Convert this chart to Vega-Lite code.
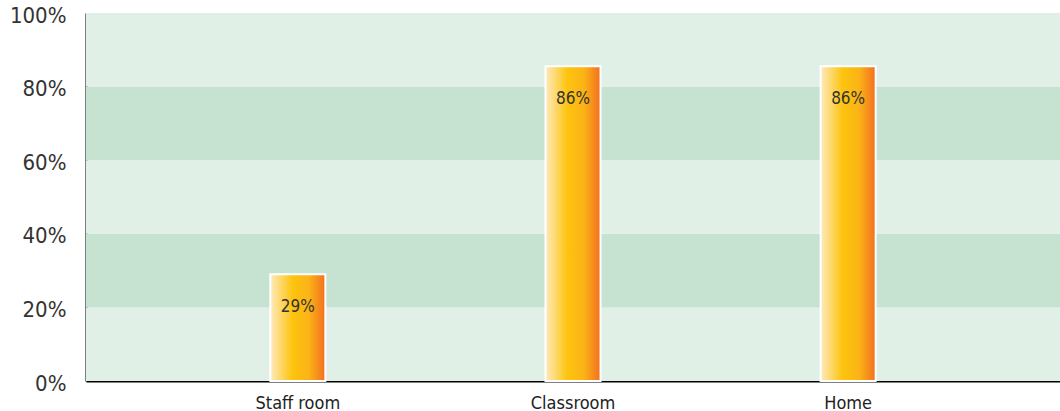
{
  "$schema": "https://vega.github.io/schema/vega-lite/v6.json",
  "width": 974,
  "height": 368,
  "autosize": {"type": "none"},
  "padding": {"left": 86, "top": 13, "right": 0, "bottom": 30},
  "background": "white",
  "config": {"view": {"stroke": null}, "font": "DejaVu Sans Condensed, Roboto, sans-serif"},
  "datasets": {
    "bands": [
      {"lo": 0, "hi": 0.2, "shade": "light"},
      {"lo": 0.2, "hi": 0.4, "shade": "dark"},
      {"lo": 0.4, "hi": 0.6, "shade": "light"},
      {"lo": 0.6, "hi": 0.8, "shade": "dark"},
      {"lo": 0.8, "hi": 1.0, "shade": "light"}
    ],
    "bars": [
      {"place": "Staff room", "value": 0.29, "label": "29%"},
      {"place": "Classroom", "value": 0.855, "label": "86%"},
      {"place": "Home", "value": 0.855, "label": "86%"}
    ]
  },
  "layer": [
    {
      "data": {"name": "bands"},
      "mark": {"type": "rect", "x": 0, "x2": 974},
      "encoding": {
        "y": {
          "field": "lo", "type": "quantitative", "scale": {"domain": [0, 1]},
          "axis": {"title": null, "format": "%", "values": [0, 0.2, 0.4, 0.6, 0.8, 1], "grid": false, "ticks": false, "domainColor": "black", "domainWidth": 2, "labelFontSize": 22, "labelColor": "#333", "labelPadding": 20, "labelOffset": 2}
        },
        "y2": {"field": "hi"},
        "color": {"field": "shade", "type": "nominal", "scale": {"domain": ["light", "dark"], "range": ["#e1f0e7", "#c6e3d2"]}, "legend": null}
      }
    },
    {
      "data": {"name": "bars"},
      "layer": [
        {
          "mark": {
            "type": "bar",
            "stroke": "white",
            "strokeWidth": 2,
            "color": {
              "gradient": "linear", "x1": 0, "x2": 1, "y1": 0, "y2": 0,
              "stops": [
                {"offset": 0, "color": "#feeabf"},
                {"offset": 0.4, "color": "#fdc40e"},
                {"offset": 0.7, "color": "#fbb316"},
                {"offset": 1, "color": "#f36f21"}
              ]
            }
          },
          "encoding": {
            "x": {
              "field": "place", "type": "nominal", "sort": null,
              "scale": {"paddingInner": 0.8, "paddingOuter": 0.67},
              "axis": {"title": null, "domainColor": "black", "domainWidth": 2, "ticks": false, "labelAngle": 0, "labelFontSize": 18, "labelColor": "#222", "labelPadding": 13}
            },
            "y": {"field": "value", "type": "quantitative"}
          }
        },
        {
          "mark": {"type": "text", "baseline": "middle", "dy": 33, "fontSize": 17, "color": "#333"},
          "encoding": {
            "x": {"field": "place", "type": "nominal", "sort": null},
            "y": {"field": "value", "type": "quantitative"},
            "text": {"field": "label", "type": "nominal"}
          }
        }
      ]
    }
  ]
}
